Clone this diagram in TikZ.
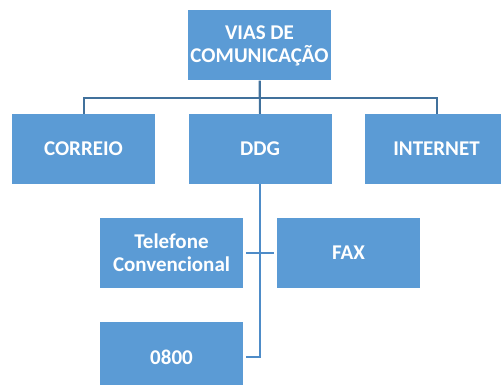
\documentclass[tikz,border=0pt]{standalone}
\usepackage{fontspec}
\setmainfont{Carlito}
\usepackage{tikz}
\usetikzlibrary{positioning}
\definecolor{boxblue}{HTML}{5B9BD5}
\definecolor{linedark}{HTML}{41719C}
\definecolor{linelight}{HTML}{4E8CC8}
\tikzset{
  orgbox/.style={fill=boxblue, text=white, font=\fontsize{21}{23}\selectfont\bfseries,
    minimum width=143pt, minimum height=70pt, inner sep=0pt, align=center},
  lvlone/.style={linedark, line width=2pt},
  lvltwo/.style={linelight, line width=2pt}
}

\begin{document}
\begin{tikzpicture}[x=1pt,y=-1pt]
\clip (0,0) rectangle (501,385);
\node [orgbox] (vias) at (259.5,45.5) {VIAS DE\\COMUNICAÇÃO};
\node [orgbox] (correio) at (83.5,149) {CORREIO};
\node [orgbox] (ddg) at (260,149) {DDG};
\node [orgbox] (internet) at (436.5,149) {INTERNET};
\node [orgbox] (telefone) at (171.5,253) {Telefone\\Convencional};
\node [orgbox] (fax) at (348.5,253) {FAX};
\node [orgbox] (zero) at (171.5,357) {0800};
\draw[lvlone] (vias.south) -- ++(0,17) -| (correio.north);
\draw[lvlone] (vias.south) -- ++(0,17) -| (internet.north);
\draw[lvlone] (vias.south) -- (ddg.north);
\draw[lvltwo, shorten >=3pt] (ddg.south) |- (zero.east);
\draw[lvltwo, shorten >=3pt, shorten <=3pt] (telefone.east) -- (fax.west);
\end{tikzpicture}
\end{document}
